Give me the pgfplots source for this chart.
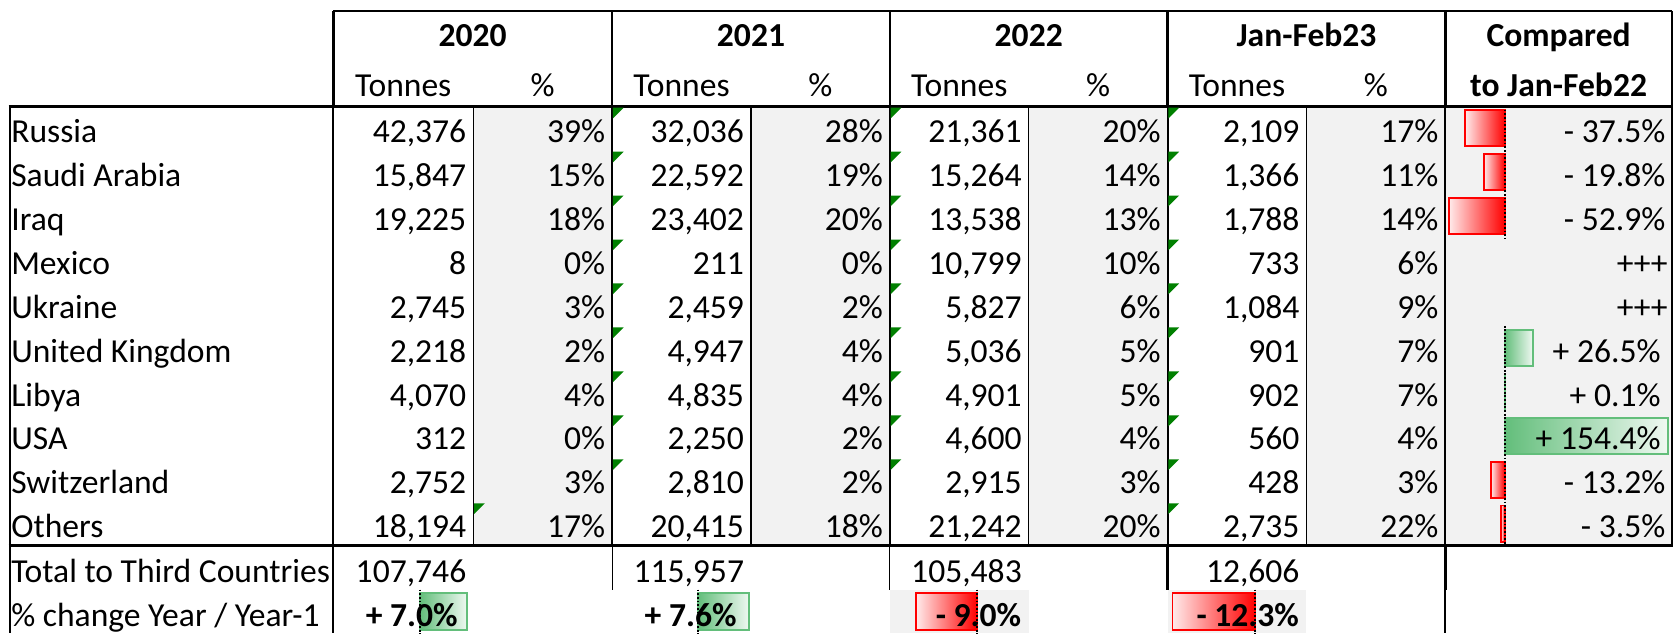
\documentclass[border=0pt]{standalone}
\usepackage{pgfplots}
\pgfplotsset{compat=1.18}
\usepackage{fontspec}
\setmainfont{Carlito}
\definecolor{cellgray}{HTML}{F2F2F2}
\definecolor{barred}{HTML}{FF0000}
\definecolor{bargreen}{HTML}{63BE7B}
\definecolor{tri}{HTML}{008000}
\pgfplotsset{
  tbl/.style={at={(0,0)},anchor=south west,scale only axis,
    width=548.8pt,height=207.55pt,hide axis,clip=false,
    y dir=reverse,ymin=-2.9113,ymax=11.4994},
  neg/.style={xbar,bar shift=0pt,bar width=#1,draw=barred,line width=0.6pt,
    left color=barred!8,right color=barred},
  neg/.default=0.82,
  pos/.style={xbar,bar shift=0pt,bar width=#1,draw=bargreen,line width=0.6pt,
    left color=bargreen,right color=bargreen!10},
  pos/.default=0.82,
}
\tikzset{zl/.style={black,line width=0.6pt,dash pattern=on 0.6pt off 0.6pt}}
\newcommand\tf{\fontsize{11}{13.2}\selectfont}
\begin{document}
\begin{tikzpicture}[font=\tf]
\useasboundingbox (0,0) rectangle (548.8pt,207.55pt);
% ---------- cell backgrounds ----------
\begin{scope}[x=0.35pt,y=-0.35pt,shift={(0,207.55pt)}]
  \fill[white] (0,0) rectangle (1568,593);
  \foreach \xa/\xb in {443/573,703/833,963/1093,1223/1353,1353/1565}
    \fill[cellgray] (\xa,99.2) rectangle (\xb,510.8);
  \fill[cellgray] (833,552) rectangle (963,593);
  \fill[cellgray] (1093,552) rectangle (1223,593);
\end{scope}
% ---------- data bars: change compared to Jan-Feb22 ----------
\begin{axis}[tbl,xmin=-1422.9,xmax=160.9]
  \addplot[neg] coordinates {(-37.5,0)};
  \addplot[neg] coordinates {(-19.8,1)};
  \addplot[neg] coordinates {(-52.9,2)};
  \addplot[pos] coordinates {(26.5,5)};
  \addplot[pos] coordinates {(0.1,6)};
  \addplot[pos] coordinates {(154.4,7)};
  \addplot[neg] coordinates {(-13.2,8)};
  \addplot[neg] coordinates {(-3.5,9)};
  \draw[zl] (axis cs:0,-0.5) -- (axis cs:0,2.5);
  \draw[zl] (axis cs:0,4.5) -- (axis cs:0,9.5);
\end{axis}
% ---------- data bars: % change Year / Year-1 ----------
\begin{axis}[tbl,xmin=-62.413,xmax=186.476]
  \addplot[pos=0.86] coordinates {(7.0,11)};
  \draw[zl] (axis cs:0,10.5) -- (axis cs:0,11.6);
\end{axis}
\begin{axis}[tbl,xmin=-103.730,xmax=145.159]
  \addplot[pos=0.86] coordinates {(7.6,11)};
  \draw[zl] (axis cs:0,10.5) -- (axis cs:0,11.6);
\end{axis}
\begin{axis}[tbl,xmin=-145.127,xmax=103.762]
  \addplot[neg=0.86] coordinates {(-9.0,11)};
  \draw[zl] (axis cs:0,10.5) -- (axis cs:0,11.6);
\end{axis}
\begin{axis}[tbl,xmin=-186.508,xmax=62.381]
  \addplot[neg=0.86] coordinates {(-12.3,11)};
  \draw[zl] (axis cs:0,10.5) -- (axis cs:0,11.6);
\end{axis}
% ---------- text and rules ----------
\begin{scope}[x=0.35pt,y=-0.35pt,shift={(0,207.55pt)},every node/.style={inner sep=0pt}]
  % header
  \foreach \xc/\t in {442.5/2020,703/2021,963/2022,1223/Jan-Feb23}
    \node[anchor=base,font=\tf\bfseries] at (\xc,43.7) {\t};
  \foreach \xc in {377.5,638,898,1158}
    \node[anchor=base] at (\xc,90.5) {Tonnes};
  \foreach \xc in {508,768,1028,1288}
    \node[anchor=base] at (\xc,90.5) {\%};
  \node[anchor=base,font=\tf\bfseries] at (1459,43.7) {Compared};
  \node[anchor=base,font=\tf\bfseries] at (1459,90.5) {to Jan-Feb22};
  % body
  \foreach \lab/\a/\ap/\b/\bp/\c/\cp/\d/\dp [count=\i from 0] in {
    Russia/{42,376}/39/{32,036}/28/{21,361}/20/{2,109}/17,
    Saudi Arabia/{15,847}/15/{22,592}/19/{15,264}/14/{1,366}/11,
    Iraq/{19,225}/18/{23,402}/20/{13,538}/13/{1,788}/14,
    Mexico/8/0/211/0/{10,799}/10/733/6,
    Ukraine/{2,745}/3/{2,459}/2/{5,827}/6/{1,084}/9,
    United Kingdom/{2,218}/2/{4,947}/4/{5,036}/5/901/7,
    Libya/{4,070}/4/{4,835}/4/{4,901}/5/902/7,
    USA/312/0/{2,250}/2/{4,600}/4/560/4,
    Switzerland/{2,752}/3/{2,810}/2/{2,915}/3/428/3,
    Others/{18,194}/17/{20,415}/18/{21,242}/20/{2,735}/22}
  {
    \pgfmathsetmacro\yb{133.2+41.15*\i}
    \node[anchor=base west] at (10,\yb) {\lab};
    \node[anchor=base east] at (437,\yb) {\a};
    \node[anchor=base east] at (567,\yb) {\ap\%};
    \node[anchor=base east] at (697,\yb) {\b};
    \node[anchor=base east] at (827,\yb) {\bp\%};
    \node[anchor=base east] at (957,\yb) {\c};
    \node[anchor=base east] at (1087,\yb) {\cp\%};
    \node[anchor=base east] at (1217,\yb) {\d};
    \node[anchor=base east] at (1347,\yb) {\dp\%};
  }
  % compared column
  \foreach \t [count=\i from 0] in {- 37.5\%,- 19.8\%,- 52.9\%}
    {\pgfmathsetmacro\yb{133.2+41.15*\i}\node[anchor=base east] at (1559.5,\yb) {\t};}
  \node[anchor=base east] at (1561.5,256.65) {+++};
  \node[anchor=base east] at (1561.5,297.8) {+++};
  \node[anchor=base east] at (1555,338.95) {+ 26.5\%};
  \node[anchor=base east] at (1555,380.1) {+ 0.1\%};
  \node[anchor=base east] at (1555,421.25) {+ 154.4\%};
  \node[anchor=base east] at (1559.5,462.4) {- 13.2\%};
  \node[anchor=base east] at (1559.5,503.55) {- 3.5\%};
  % totals
  \node[anchor=base west] at (10,545.4) {Total to Third Countries};
  \node[anchor=base east] at (437,545.4) {107,746};
  \node[anchor=base east] at (697,545.4) {115,957};
  \node[anchor=base east] at (957,545.4) {105,483};
  \node[anchor=base east] at (1217,545.4) {12,606};
  \node[anchor=base west] at (10,586.4) {\% change Year / Year-1};
  \node[anchor=base east,font=\tf\bfseries] at (429,586.4) {+ 7.0\%};
  \node[anchor=base east,font=\tf\bfseries] at (690,586.4) {+ 7.6\%};
  \node[anchor=base east,font=\tf\bfseries] at (956.5,586.4) {- 9.0\%};
  \node[anchor=base east,font=\tf\bfseries] at (1216.5,586.4) {- 12.3\%};
  % rules
  \draw[line width=0.8pt] (312,10.3) -- (1565,10.3);
  \foreach \x in {312,573,833,1093,1353,1565}
    \draw[line width=0.8pt] (\x,10.3) -- (\x,99.5);
  \foreach \x in {443,703,963,1223}
    \draw[line width=0.4pt] (\x,99.5) -- (\x,510.8);
  \foreach \x in {573,833,1093,1353}
    \draw[line width=0.6pt] (\x,99.5) -- (\x,510.8);
  \draw[line width=0.7pt] (312,99.5) -- (312,593);
  \draw[line width=0.7pt] (1565,99.5) -- (1565,510.8);
  \draw[line width=0.6pt] (9,99.5) -- (9,593);
  \draw[line width=1.05pt] (8,99.5) -- (1566,99.5);
  \draw[line width=1.05pt] (8,510.8) -- (1566,510.8);
  \foreach \x in {573,833}
    \draw[line width=0.4pt] (\x,510.8) -- (\x,552);
  \draw[line width=0.8pt] (1093,510.8) -- (1093,552);
  \draw[line width=0.9pt] (1353,510.8) -- (1353,552);
  \draw[line width=0.6pt] (1353,552) -- (1353,593);
  % error-indicator triangles
  \foreach \x/\r in {573/0,573/1,573/2,573/3,573/4,573/5,573/6,573/7,573/8,443/9,
                     833/0,833/1,833/2,833/3,833/4,833/5,833/6,833/7,833/8,
                     1093/0,1093/1,1093/2,1093/3,1093/4,1093/5,1093/6,1093/7,1093/8,1093/9}
    {\pgfmathsetmacro\yt{99.2+41.15*\r+1.6}
     \fill[tri] (\x+0.8,\yt) -- ++(10,0) -- ++(-10,10) -- cycle;}
\end{scope}
\end{tikzpicture}
\end{document}
